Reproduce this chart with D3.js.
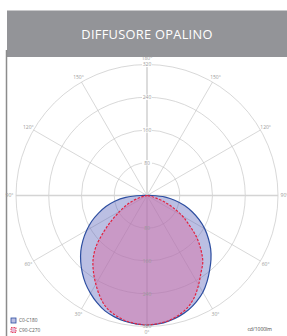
<!DOCTYPE html>
<html>
<head>
<meta charset="utf-8">
<script src="https://cdn.jsdelivr.net/npm/d3@7"></script>
<style>
  html, body { margin: 0; padding: 0; background: #fff; }
  svg text { font-family: "Open Sans", "Liberation Sans", sans-serif; }
</style>
</head>
<body>
<div id="chart"></div>
<script>
// angoli gamma (0° = verso il basso), intensità in cd/1000lm
const angles = [0, 5, 10, 15, 20, 25, 30, 35, 40, 45, 50, 55, 60, 65, 70, 75, 80, 85, 90];
const c0   = [316, 315, 311, 305, 297, 286, 273, 256, 238, 221, 203, 183, 163, 141, 118, 95, 70, 45, 12];
const c180 = [316, 315, 312, 307, 300, 289, 276, 262, 246, 229, 211, 191, 170, 149, 126, 104, 80, 52, 14];
const c90  = [316, 314, 310, 302, 291, 274, 252, 230, 212, 186, 158, 126, 100, 70, 46, 22, 7, 2, 0];
const c270 = [316, 314, 310, 302, 291, 272, 250, 228, 205, 176, 138, 104, 76, 55, 35, 15, 5, 1, 0];

const rings = [80, 160, 240, 320];
const spokes = [30, 60, 120, 150];
const axisLabels = ['0°', '90°', '180°'];
const title = 'DIFFUSORE OPALINO';
const unit = 'cd/1000lm';
const legend = [
  { name: 'C0-C180', stroke: '#2d4ea0', fill: 'rgba(85,95,185,0.4)', dash: null },
  { name: 'C90-C270', stroke: '#e2223f', fill: 'rgba(215,115,170,0.5)', dash: '2.5,1.5' },
];

const width = 287, height = 336;
const cx = 147, cy = 195.5;

const svg = d3.select('#chart').append('svg')
  .attr('width', width)
  .attr('height', height);

// intestazione grigia
svg.append('rect')
  .attr('x', 7).attr('y', 10.5)
  .attr('width', width - 7).attr('height', 46.5)
  .attr('fill', '#939498');
svg.append('text')
  .attr('x', 147).attr('y', 38.5)
  .attr('text-anchor', 'middle')
  .attr('fill', '#fff')
  .attr('font-size', 12.8)
  .attr('font-weight', 400)
  .attr('letter-spacing', 0.3)
  .text(title);

// bordo sinistro
svg.append('line')
  .attr('x1', 6.5).attr('x2', 6.5)
  .attr('y1', 50).attr('y2', height)
  .attr('stroke', '#8c8c8c')
  .attr('stroke-width', 1.5);

const r = d3.scaleLinear().domain([0, 320]).range([0, 131]);
const g = svg.append('g').attr('transform', `translate(${cx},${cy})`);

// punto polare: gamma in gradi da giù, side = +1 destra, -1 sinistra
const pt = (deg, rad, side) => {
  const a = deg * Math.PI / 180;
  return [side * rad * Math.sin(a), rad * Math.cos(a)];
};

const grid = g.append('g');
grid.selectAll('circle.ring')
  .data(rings)
  .join('circle')
  .attr('class', 'ring')
  .attr('r', d => r(d))
  .attr('fill', 'none')
  .attr('stroke', '#bdbdbd')
  .attr('stroke-width', 0.6);

for (const side of [1, -1]) {
  grid.selectAll(null)
    .data(spokes)
    .join('line')
    .attr('x1', 0).attr('y1', 0)
    .attr('x2', d => pt(d, r(320), side)[0])
    .attr('y2', d => pt(d, r(320), side)[1])
    .attr('stroke', '#bdbdbd')
    .attr('stroke-width', 0.6);
}
// assi principali
grid.append('line')
  .attr('x1', -r(320)).attr('x2', r(320)).attr('y1', 0).attr('y2', 0)
  .attr('stroke', '#d4d4d4').attr('stroke-width', 1.6);
grid.append('line')
  .attr('x1', 0).attr('x2', 0).attr('y1', -r(320)).attr('y2', r(320))
  .attr('stroke', '#d4d4d4').attr('stroke-width', 1.6);

// curve fotometriche
const curve = (right, left) => {
  const pts = [];
  for (let i = angles.length - 1; i >= 0; i--) pts.push(pt(angles[i], r(right[i]), 1));
  for (let i = 1; i < angles.length; i++) pts.push(pt(angles[i], r(left[i]), -1));
  pts.push([0, 0]);
  return d3.line().curve(d3.curveCatmullRomClosed.alpha(0.5))(pts);
};

const series = [
  { ...legend[0], right: c0, left: c180 },
  { ...legend[1], right: c90, left: c270 },
];
for (const s of series) {
  g.append('path')
    .attr('d', curve(s.right, s.left))
    .attr('fill', s.fill)
    .attr('stroke', s.stroke)
    .attr('stroke-width', 1.2)
    .attr('stroke-dasharray', s.dash);
}

// etichette degli anelli (sopra e sotto)
const ringLab = g.append('g')
  .attr('font-size', 5)
  .attr('fill', '#9a9a9a')
  .attr('text-anchor', 'middle');
for (const d of rings) {
  const top = ringLab.append('g').attr('transform', `translate(0,${-r(d)})`);
  top.append('rect').attr('x', -5).attr('y', -2.6).attr('width', 10).attr('height', 5.2).attr('fill', '#fff');
  top.append('text').attr('dy', '0.35em').text(d);
  ringLab.append('text').attr('y', r(d)).attr('dy', '0.35em').text(d);
}

// etichette angolari
const angLab = g.append('g')
  .attr('font-size', 5)
  .attr('fill', '#9a9a9a')
  .attr('text-anchor', 'middle');
const labR = r(320) + 6;
for (const side of [1, -1]) {
  angLab.selectAll(null)
    .data(spokes)
    .join('text')
    .attr('x', d => pt(d, labR, side)[0])
    .attr('y', d => pt(d, labR, side)[1])
    .attr('dy', '0.35em')
    .text(d => d + '°');
  angLab.append('text')
    .attr('x', side * (labR + 0.5)).attr('y', 0).attr('dy', '0.35em')
    .text(axisLabels[1]);
}
angLab.append('text').attr('x', 0).attr('y', labR).attr('dy', '0.35em').text(axisLabels[0]);
angLab.append('text').attr('x', 0).attr('y', -labR).attr('dy', '0.35em').text(axisLabels[2]);

// legenda
const leg = svg.append('g').attr('transform', 'translate(11,318)');
legend.forEach((d, i) => {
  const row = leg.append('g').attr('transform', `translate(0,${i * 9.5})`);
  row.append('rect')
    .attr('width', 5).attr('height', 5)
    .attr('fill', d.fill)
    .attr('stroke', d.stroke)
    .attr('stroke-width', 0.8)
    .attr('stroke-dasharray', d.dash ? '1.5,1' : null);
  row.append('text')
    .attr('x', 8).attr('y', 2.5).attr('dy', '0.35em')
    .attr('font-size', 4.8)
    .attr('fill', '#555')
    .text(d.name);
});

svg.append('text')
  .attr('x', 272).attr('y', 330.5)
  .attr('text-anchor', 'end')
  .attr('font-size', 5)
  .attr('fill', '#444')
  .text(unit);
</script>
</body>
</html>
